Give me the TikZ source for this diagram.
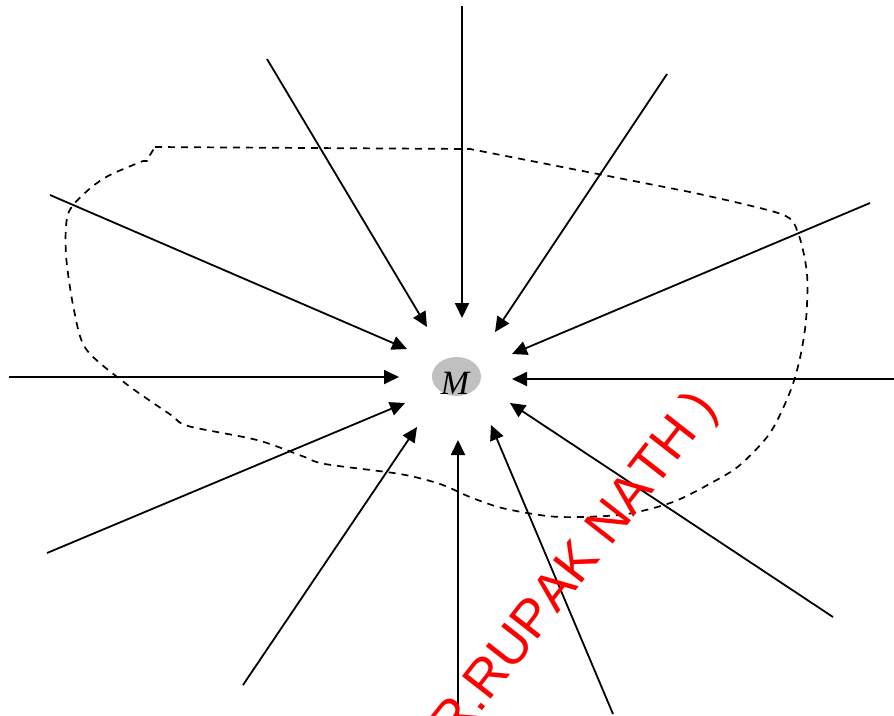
\documentclass[tikz,border=0pt]{standalone}
\usepackage{fontspec}
\setmainfont{Liberation Serif}
\newfontfamily\wmfont[Kerning=Off]{Liberation Sans}
\usetikzlibrary{arrows.meta,shapes.geometric}
\definecolor{mgrey}{HTML}{C0C0C0}
\tikzset{
  ray/.style={line width=1.8pt, -{Triangle[length=15pt,width=14pt]}},
  dsh/.style={line width=1.7pt, dash pattern=on 7pt off 6pt},
  mass/.style={ellipse, fill=mgrey, minimum width=49pt, minimum height=39pt, inner sep=0pt},
  wm/.style={text=red, rotate=52, inner sep=0pt, font=\wmfont\fontsize{53}{53}\selectfont}
}
\begin{document}
\begin{tikzpicture}[x=1pt,y=-1pt]
\useasboundingbox (0,0) rectangle (894,715);
\clip (0,0) rectangle (894,715);
% dashed region
\draw[dsh] (155,147) -- (470,149) -- (690,192)
  -- plot[smooth, tension=0.5] coordinates {(690,192) (781,214) (798,233) (807,274) (806,320) (800,358) (790,392) (770,433) (740,465) (713,482) (673,502) (627,514) (580,517) (547,516) (502,508) (470,497) (440,484) (400,474) (325,464) (302,456) (257,440) (188,426) (171,415) (125,383) (86,349) (74,310) (66,255) (68,214) (86,192) (108,176) (143,161)}
  -- (148,161) -- (150,155) -- cycle;
% central mass
\node[mass] (M) at (456.5,376.5) {};
\node[font=\fontsize{34}{34}\selectfont\itshape, inner sep=0pt, anchor=base] (Mlab) at (455,394) {M};
% ray start and tip coordinates
\coordinate (s1) at (462,6);    \coordinate (t1) at (462,318);
\coordinate (s2) at (267,59);   \coordinate (t2) at (427,327);
\coordinate (s3) at (667,74);   \coordinate (t3) at (495,332);
\coordinate (s4) at (50,195);   \coordinate (t4) at (407,349);
\coordinate (s5) at (870,203);  \coordinate (t5) at (512,354);
\coordinate (s6) at (9,377);    \coordinate (t6) at (399,377);
\coordinate (s7) at (894,379);  \coordinate (t7) at (512,379);
\coordinate (s8) at (47,553);   \coordinate (t8) at (405,403);
\coordinate (s9) at (833,617);  \coordinate (t9) at (510,403);
\coordinate (s10) at (243,685); \coordinate (t10) at (417,427);
\coordinate (s11) at (458,718); \coordinate (t11) at (458,440);
\coordinate (s12) at (613,714); \coordinate (t12) at (491,425);
\foreach \i in {1,...,12} { \draw[ray] (s\i) -- (t\i); }
% watermark
\coordinate (wmo) at (488.5,703);
\node[wm, anchor=base west] (wmA) at (wmo) {RUPAK NATH )};
\node[wm, anchor=base east] (wmB) at (wmo) {( DR.};
\end{tikzpicture}
\end{document}
